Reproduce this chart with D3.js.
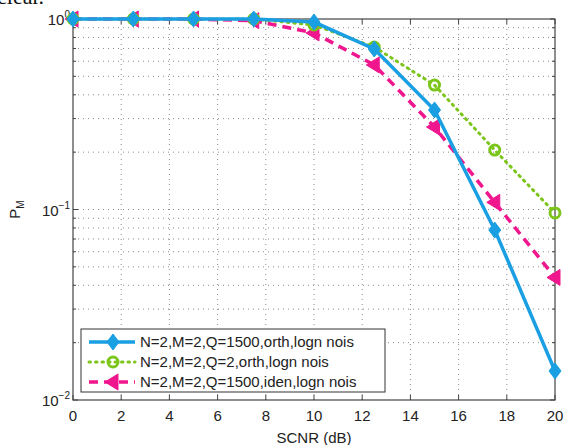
<!DOCTYPE html>
<html>
<head>
	<meta charset="UTF-8">
	<style>
		body { margin: 0; background: #fff; }
		text { font-family: "Liberation Sans", Arial, sans-serif; fill: #222; }
		.grid line { stroke: #8a8a8a; stroke-width: 1; stroke-dasharray: 1,4; }
	</style>
</head>
<body>
<script src="https://d3js.org/d3.v7.min.js"></script>
<script>

'use strict';

var snr = [0, 2.5, 5, 7.5, 10, 12.5, 15, 17.5, 20];
var pmOrth1500 = [1, 1, 1, 1, 0.964, 0.696, 0.333, 0.078, 0.0142];
var pmOrth2 = [1, 1, 1, 1, 0.93, 0.713, 0.45, 0.205, 0.096];
var pmIden1500 = [1, 1, 1, 0.98, 0.845, 0.574, 0.271, 0.109, 0.044];
var xTicks = [0, 2, 4, 6, 8, 10, 12, 14, 16, 18, 20];
var legendLabels = [
	"N=2,M=2,Q=1500,orth,logn nois",
	"N=2,M=2,Q=2,orth,logn nois",
	"N=2,M=2,Q=1500,iden,logn nois"
];

var width = 564, height = 445;
var margin = {top: 19, right: 9, bottom: 45, left: 73};

var svg = d3.select("body").append("svg")
	.attr("width", width)
	.attr("height", height);

// leftover text from the page above the figure
svg.append("text")
	.attr("x", -3).attr("y", 4)
	.style("font-family", "'Liberation Serif', 'Times New Roman', serif")
	.style("font-size", "22px")
	.style("fill", "#111")
	.text("clear.");

var x = d3.scaleLinear().domain([0, 20]).range([margin.left, width - margin.right]);
var y = d3.scaleLog().domain([0.01, 1]).range([height - margin.bottom, margin.top]);

var x0 = x.range()[0], x1 = x.range()[1];
var y0 = y.range()[0], y1 = y.range()[1];

// minor log values
var yMinor = [];
[0.01, 0.1].forEach(function(d){
	for (var k = 2; k <= 9; k++) yMinor.push(d * k);
});
var yMajor = [0.01, 0.1, 1];

var grid = svg.append("g").attr("class", "grid");
grid.selectAll(".gx").data(xTicks.slice(1, -1)).enter().append("line")
	.attr("x1", function(d){ return x(d); }).attr("x2", function(d){ return x(d); })
	.attr("y1", y1).attr("y2", y0);
grid.selectAll(".gy").data(yMinor.concat([0.1])).enter().append("line")
	.attr("x1", x0).attr("x2", x1)
	.attr("y1", function(d){ return y(d); }).attr("y2", function(d){ return y(d); });

// ticks (inside, both sides)
var ticks = svg.append("g").attr("stroke", "#444").attr("stroke-width", 1);
xTicks.forEach(function(d){
	ticks.append("line").attr("x1", x(d)).attr("x2", x(d)).attr("y1", y0).attr("y2", y0 - 5);
	ticks.append("line").attr("x1", x(d)).attr("x2", x(d)).attr("y1", y1).attr("y2", y1 + 5);
});
yMajor.forEach(function(d){
	ticks.append("line").attr("x1", x0).attr("x2", x0 + 5).attr("y1", y(d)).attr("y2", y(d));
	ticks.append("line").attr("x1", x1).attr("x2", x1 - 5).attr("y1", y(d)).attr("y2", y(d));
});
yMinor.forEach(function(d){
	ticks.append("line").attr("x1", x0).attr("x2", x0 + 3).attr("y1", y(d)).attr("y2", y(d));
	ticks.append("line").attr("x1", x1).attr("x2", x1 - 3).attr("y1", y(d)).attr("y2", y(d));
});

svg.append("rect")
	.attr("x", x0).attr("y", y1)
	.attr("width", x1 - x0).attr("height", y0 - y1)
	.attr("fill", "none").attr("stroke", "#444").attr("stroke-width", 1.2);

// tick labels
svg.append("g").selectAll("text").data(xTicks).enter().append("text")
	.attr("x", function(d){ return x(d); })
	.attr("y", y0 + 21)
	.attr("text-anchor", "middle")
	.style("font-size", "15px")
	.text(function(d){ return d; });

var yl = svg.append("g").selectAll("text").data(yMajor).enter().append("text")
	.attr("x", x0 - 3)
	.attr("y", function(d){ return y(d) + 6; })
	.attr("text-anchor", "end")
	.style("font-size", "15px");
yl.append("tspan").text("10");
yl.append("tspan")
	.attr("dy", -7)
	.style("font-size", "10px")
	.text(function(d){ return Math.round(Math.log10(d)) === 0 ? "0" : "\u2212" + (-Math.round(Math.log10(d))); });

svg.append("text")
	.attr("x", (x0 + x1) / 2)
	.attr("y", height - 2)
	.attr("text-anchor", "middle")
	.style("font-size", "15px")
	.text("SCNR (dB)");

var yt = svg.append("text")
	.attr("transform", "translate(20," + ((y0 + y1) / 2) + ") rotate(-90)")
	.attr("text-anchor", "middle")
	.style("font-size", "15px");
yt.append("tspan").text("P");
yt.append("tspan").attr("dy", 4).style("font-size", "10px").text("M");

// series
var series = [
	{values: pmOrth1500, color: "#1a9fe3", width: 3.5, dash: null, marker: "diamond"},
	{values: pmOrth2, color: "#7cc51a", width: 3, dash: "1.5,5", marker: "circle"},
	{values: pmIden1500, color: "#f0168d", width: 3.5, dash: "9,6", marker: "triangle"}
];

var line = d3.line()
	.x(function(d){ return x(d[0]); })
	.y(function(d){ return y(d[1]); });

function drawMarker(g, type, color, cx, cy){
	if (type === "diamond") {
		g.append("path")
			.attr("d", "M" + cx + "," + (cy - 8) + "L" + (cx + 6) + "," + cy + "L" + cx + "," + (cy + 8) + "L" + (cx - 6) + "," + cy + "Z")
			.attr("fill", color).attr("stroke", color).attr("stroke-width", 1);
	} else if (type === "circle") {
		g.append("circle")
			.attr("cx", cx).attr("cy", cy).attr("r", 5)
			.attr("fill", "none").attr("stroke", color).attr("stroke-width", 3);
	} else {
		g.append("path")
			.attr("d", "M" + (cx - 8) + "," + cy + "L" + (cx + 5) + "," + (cy - 8) + "L" + (cx + 5) + "," + (cy + 8) + "Z")
			.attr("fill", color).attr("stroke", color).attr("stroke-width", 1);
	}
}

// draw in reverse so blue sits on top as in the reference
series.slice().reverse().forEach(function(s){
	var pts = snr.map(function(d, i){ return [d, s.values[i]]; });
	svg.append("path")
		.datum(pts)
		.attr("d", line)
		.attr("fill", "none")
		.attr("stroke", s.color)
		.attr("stroke-width", s.width)
		.attr("stroke-dasharray", s.dash)
		.attr("stroke-linecap", s.marker === "circle" ? "round" : "butt");
	var mg = svg.append("g");
	pts.forEach(function(p){ drawMarker(mg, s.marker, s.color, x(p[0]), y(p[1])); });
});

// legend
var lg = svg.append("g");
lg.append("rect")
	.attr("x", 81).attr("y", 329)
	.attr("width", 304).attr("height", 63)
	.attr("fill", "#fff").attr("stroke", "#333").attr("stroke-width", 1);
series.forEach(function(s, i){
	var ly = 342 + i * 20;
	lg.append("line")
		.attr("x1", 89).attr("x2", 135).attr("y1", ly).attr("y2", ly)
		.attr("stroke", s.color).attr("stroke-width", s.width)
		.attr("stroke-dasharray", s.dash)
		.attr("stroke-linecap", s.marker === "circle" ? "round" : "butt");
	drawMarker(lg, s.marker, s.color, 113, ly);
	lg.append("text")
		.attr("x", 140).attr("y", ly + 5)
		.style("font-size", "15px")
		.text(legendLabels[i]);
});

</script>
</body>
</html>
